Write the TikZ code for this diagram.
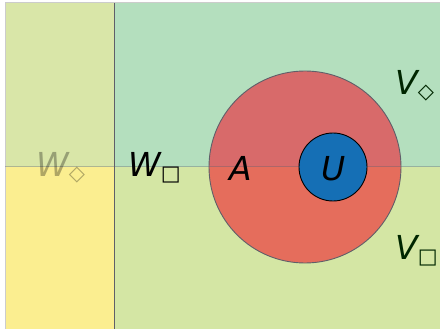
\documentclass[tikz,border=0pt]{standalone}
\usepackage{fontspec}
\setmainfont{DejaVu Sans}
\usetikzlibrary{positioning}
\definecolor{ColTL}{RGB}{217,230,168}
\definecolor{ColBL}{RGB}{251,238,144}
\definecolor{ColTR}{RGB}{180,223,190}
\definecolor{ColBR}{RGB}{212,230,164}
\definecolor{RedTop}{RGB}{216,106,106}
\definecolor{RedBot}{RGB}{229,109,92}
\definecolor{OpenBlue}{RGB}{21,111,181}
\definecolor{EdgeGray}{RGB}{95,95,105}
\newcommand{\sub}[1]{\raisebox{-4pt}{\fontsize{21}{21}\selectfont #1}}
\tikzset{
  lbl/.style={inner sep=0pt,font=\fontsize{33}{33}\selectfont\itshape,anchor=base west},
  frame/.style={draw=black!20,line width=1pt},
  split/.style={draw=EdgeGray,line width=1pt},
}
\begin{document}
\begin{tikzpicture}[x=1pt,y=-1pt]
\useasboundingbox (0,0) rectangle (440,329);
% regions
\fill[ColTL] (5,3) rectangle (114,167);
\fill[ColBL] (5,167) rectangle (114,329);
\fill[ColTR] (114,3) rectangle (440,167);
\fill[ColBR] (114,167) rectangle (440,329);
\draw[frame] (5,329) -- (5,3) -- (440,3);
% big set
\begin{scope}
\clip (305,167) circle (96);
\fill[RedTop] (200,60) rectangle (410,167);
\fill[RedBot] (200,167) rectangle (410,280);
\end{scope}
\node[circle,draw=EdgeGray,line width=0.9pt,minimum size=192pt,inner sep=0pt] (A) at (305,167) {};
\draw[split] (114,3) -- (114,329);
\draw[split,opacity=0.35] (5,167) -- (440,167);
\node[circle,draw=black,fill=OpenBlue,line width=0.9pt,minimum size=68pt,inner sep=0pt] (U) at (333,167) {};
% labels
\node[lbl,text=black,opacity=0.3] (Wd) at (36,177) {W\sub{◇}};
\node[lbl] (Wb) at (128,177) {W\sub{□}};
\node[lbl] (Alab) at (229,181) {A};
\node[lbl] (Ulab) at (321,181) {U};
\node[lbl,text=black!85!green] (Vd) at (395,95) {V\sub{◇}};
\node[lbl,text=black!85!green] (Vb) at (395,259) {V\sub{□}};
\end{tikzpicture}
\end{document}
